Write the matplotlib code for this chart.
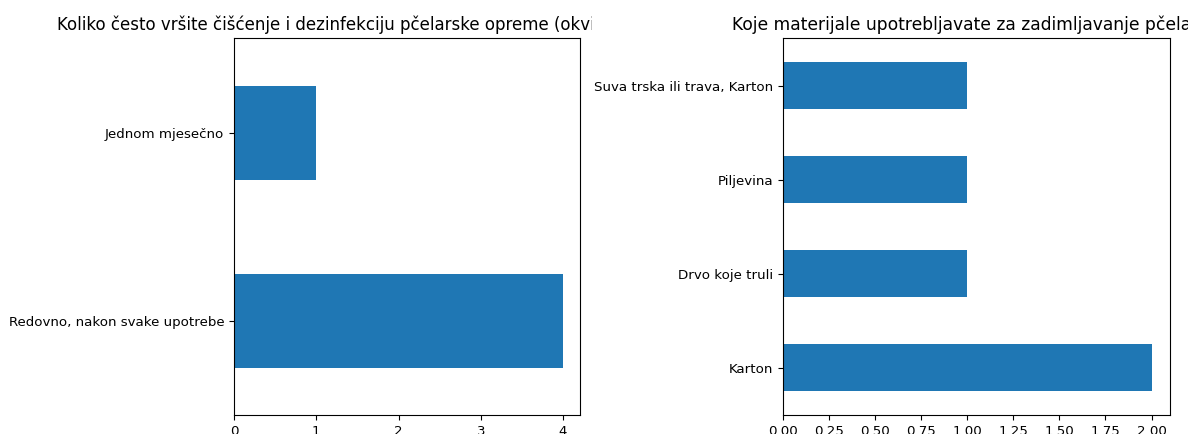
import matplotlib.pyplot as plt
from matplotlib.transforms import Bbox, TransformedBbox

# ciscenje i dezinfekcija opreme
clean_labels = ['Redovno, nakon svake upotrebe', 'Jednom mjesečno']
clean_counts = [4, 1]

# materijali za zadimljavanje
smoke_labels = ['Karton', 'Drvo koje truli', 'Piljevina', 'Suva trska ili trava, Karton']
smoke_counts = [2, 1, 1, 1]

title_left = 'Koliko često vršite čišćenje i dezinfekciju pčelarske opreme (okviri, dimilica, pribor)?'
title_right = 'Koje materijale upotrebljavate za zadimljavanje pčela?'

plt.rcParams['font.size'] = 9.6

fig = plt.figure(figsize=(11.88, 4.34), dpi=100)
ax1 = fig.add_axes([0.197, 0.0438, 0.2908, 0.8675])
ax2 = fig.add_axes([0.6593, 0.0438, 0.3255, 0.8675])


def barh_counts(ax, labels, counts):
    pos = list(range(len(labels)))
    ax.barh(pos, counts, height=0.5, color='#1f77b4')
    ax.set_yticks(pos)
    ax.set_yticklabels(labels)
    ax.set_ylim(-0.5, len(labels) - 0.5)
    ax.set_xlim(0, max(counts) * 1.05)


barh_counts(ax1, clean_labels, clean_counts)
barh_counts(ax2, smoke_labels, smoke_counts)

t1 = ax1.set_title(title_left, fontsize=12)
t2 = ax2.set_title(title_right, fontsize=12.3, x=0.474)

# the two panels were rendered separately, so the left title stops at its panel edge
clip = TransformedBbox(Bbox([[0, 0], [592 / 1188, 1]]), fig.transFigure)
t1.set_clip_box(clip)
t1.set_clip_on(True)

fig.savefig('out.png', dpi=100)
